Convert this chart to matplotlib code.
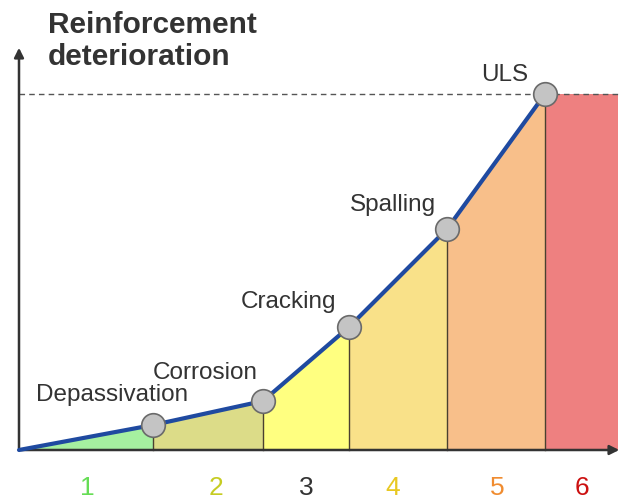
import numpy as np
import matplotlib.pyplot as plt

# stage boundaries (x) and deterioration level at each boundary (y)
stage_x = [0, 134, 244, 330, 428, 526]
stage_y = [0, 25, 49, 123, 221, 356]
x_end = 599
events = ['', 'Depassivation', 'Corrosion', 'Cracking', 'Spalling', 'ULS']
stage_labels = ['1', '2', '3', '4', '5', '6']
fill_colors = ['#a6f0a0', '#dcdc88', '#ffff80', '#f9e189', '#f8bf8a', '#ee8080']
label_colors = ['#66dd55', '#c6cc22', '#333333', '#e8c822', '#f08c30', '#cc1010']

plt.rcParams['font.family'] = ['Liberation Sans', 'DejaVu Sans']

fig = plt.figure(figsize=(6.23, 5.04), dpi=100)
ax = fig.add_axes([0, 0, 1, 1])
ax.set_xlim(-19, 604)
ax.set_ylim(-54, 450)
ax.axis('off')

# coloured stage areas under the curve
for i in range(5):
    ax.fill_between(stage_x[i:i + 2], 0, stage_y[i:i + 2], color=fill_colors[i], lw=0)
ax.fill_between([stage_x[5], x_end], 0, stage_y[5], color=fill_colors[5], lw=0)

# vertical separators
for x, y in zip(stage_x[1:], stage_y[1:]):
    ax.plot([x, x], [0, y], color='#4a4030', lw=1)

# ULS dashed limit
ax.plot([0, x_end], [stage_y[5], stage_y[5]], color='#555555', lw=1, ls=(0, (4, 3)))

# axes arrows
ax.annotate('', xy=(0, 405), xytext=(0, -1),
            arrowprops=dict(arrowstyle='-|>', color='#333333', lw=1.8, mutation_scale=14))
ax.annotate('', xy=(603, 0), xytext=(-1, 0),
            arrowprops=dict(arrowstyle='-|>', color='#333333', lw=1.8, mutation_scale=14))

# deterioration curve
ax.plot(stage_x, stage_y, color='#1f4aa0', lw=3, solid_capstyle='round', zorder=4)
ax.plot(stage_x[1:], stage_y[1:], 'o', ms=17, mfc='#c4c4c4', mec='#6a6a6a', mew=1.2, zorder=5)

# event labels (offset from each point)
offsets = [None, (-41, 30), (-58, 28), (-61, 25), (-54, 24), (-40, 19)]
for i in range(1, 6):
    dx, dy = offsets[i]
    ax.text(stage_x[i] + dx, stage_y[i] + dy, events[i], fontsize=17.5,
            color='#333333', ha='center', va='center')

# stage numbers
centers = [68, 197, 287, 374, 478, 563]
for c, s, col in zip(centers, stage_labels, label_colors):
    ax.text(c, -38, s, fontsize=19, color=col, ha='center', va='center')

ax.text(29, 409, 'Reinforcement\ndeterioration', fontsize=21.5, fontweight='bold',
        color='#333333', ha='left', va='center', linespacing=1.2)

fig.savefig('out.png', dpi=100)
